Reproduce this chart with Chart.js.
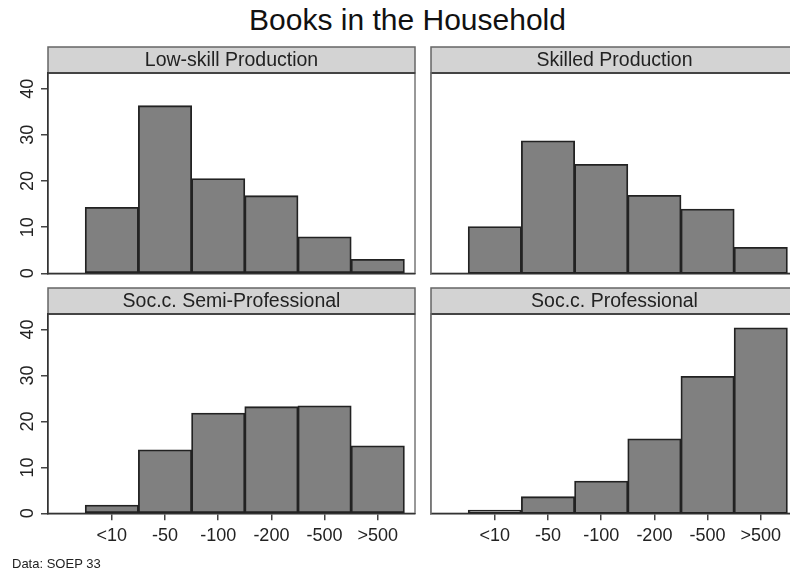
<!DOCTYPE html>
<html>
<head>
<meta charset="utf-8">
<script src="https://cdn.jsdelivr.net/npm/chart.js@4.4.0/dist/chart.umd.min.js"></script>
<style>
  html, body { margin: 0; padding: 0; background: #fff; }
  body { width: 790px; height: 574px; overflow: hidden; position: relative; font-family: "Liberation Sans", Arial, sans-serif; }
  canvas { position: absolute; }
  #title { position: absolute; left: 0; top: 5px; width: 815px; text-align: center; font-size: 30px; line-height: 30px; color: #111; }
  #note { position: absolute; left: 12px; top: 557px; font-size: 13px; line-height: 13px; color: #222; }
</style>
</head>
<body>
<div id="title">Books in the Household</div>
<canvas id="lowSkill" width="425" height="245" style="left:0px;top:40px"></canvas>
<canvas id="skilled" width="425" height="245" style="left:383px;top:40px"></canvas>
<canvas id="semiProf" width="425" height="294" style="left:0px;top:280px"></canvas>
<canvas id="prof" width="425" height="294" style="left:383px;top:280px"></canvas>
<div id="note">Data: SOEP 33</div>

<script>
// categories of books in the household
const bookCats = ["<10", "-50", "-100", "-200", "-500", ">500"];
const xPos = [1, 2, 3, 4, 5, 6];
const yTicks = [0, 10, 20, 30, 40];

// percent per category, one array per occupation group
const lowSkillVals = [14.3, 36.3, 20.5, 16.8, 7.9, 3.0];
const skilledVals = [10.1, 28.7, 23.6, 16.9, 13.9, 5.6];
const semiProfVals = [1.8, 13.8, 21.8, 23.2, 23.4, 14.7];
const profVals = [0.7, 3.6, 7.0, 16.2, 29.8, 40.4];

const fontFam = '"Liberation Sans", Arial, sans-serif';
Chart.defaults.font.family = fontFam;

// strip on top of every panel, frame and rotated y labels
const facetPlugin = {
  id: 'facet',
  beforeDraw(chart, args, opts) {
    const a = chart.chartArea;
    const ctx = chart.ctx;
    const w = a.right - a.left;
    ctx.save();
    ctx.strokeStyle = '#777';
    ctx.lineWidth = 1.5;
    ctx.strokeRect(a.left, a.top, w, a.bottom - a.top);

    ctx.fillStyle = '#d3d3d3';
    ctx.fillRect(a.left, a.top - 26, w, 26);
    ctx.strokeStyle = '#666';
    ctx.lineWidth = 1.5;
    ctx.strokeRect(a.left, a.top - 26, w, 26);
    ctx.strokeStyle = '#444';
    ctx.lineWidth = 2;
    ctx.beginPath();
    ctx.moveTo(a.left, a.top);
    ctx.lineTo(a.right, a.top);
    ctx.stroke();

    ctx.fillStyle = '#222';
    ctx.font = '19.5px ' + fontFam;
    ctx.textAlign = 'center';
    ctx.textBaseline = 'alphabetic';
    ctx.fillText(opts.label, (a.left + a.right) / 2, a.top - 6.6);

    if (opts.yLabels) {
      const ys = chart.scales.y;
      ctx.font = '18px ' + fontFam;
      for (let t of ys.ticks) {
        ctx.save();
        ctx.translate(ys.right - 15, ys.getPixelForValue(t.value));
        ctx.rotate(-Math.PI / 2);
        ctx.fillText(String(t.value), 0, 0);
        ctx.restore();
      }
    }
    ctx.restore();
  }
};

function makePanel(id, label, vals, isLeft, isBottom) {
  const canvasHeight = isBottom ? 294 : 245;
  const top = isBottom ? 34 : 33;
  const xHeight = isBottom ? 40 : 0;
  new Chart(document.getElementById(id), {
    type: 'bar',
    data: {
      datasets: [{
        data: vals.map(function(v, i) { return { x: xPos[i], y: v }; }),
        backgroundColor: '#808080',
        borderColor: '#222',
        borderWidth: 1.8,
        borderSkipped: false,
        inflateAmount: 0.4,
        barPercentage: 1,
        categoryPercentage: 1
      }]
    },
    options: {
      responsive: false,
      animation: false,
      layout: { padding: { top: top, right: 10, left: 0, bottom: canvasHeight - 233.3 - xHeight } },
      plugins: {
        legend: { display: false },
        tooltip: { enabled: false },
        facet: { label: label, yLabels: isLeft }
      },
      scales: {
        x: {
          type: 'linear',
          min: -0.2,
          max: 6.7,
          offset: false,
          afterBuildTicks: function(s) { s.ticks = xPos.map(function(v) { return { value: v }; }); },
          afterFit: function(s) { s.height = xHeight; },
          ticks: {
            display: isBottom,
            autoSkip: false,
            maxRotation: 0,
            padding: 5,
            color: '#222',
            font: { size: 18 },
            callback: function(v) { return bookCats[xPos.indexOf(v)]; }
          },
          grid: { display: isBottom, offset: false, drawOnChartArea: false, tickLength: 7, color: '#444', lineWidth: 1.5 },
          border: { display: true, color: '#333', width: 1.5 }
        },
        y: {
          min: 0,
          max: 43.4,
          afterBuildTicks: function(s) { s.ticks = yTicks.map(function(v) { return { value: v }; }); },
          afterFit: function(s) { s.width = 48; },
          ticks: { display: false },
          grid: { display: isLeft, drawOnChartArea: false, tickLength: 7, color: '#444', lineWidth: 1.5 },
          border: { display: true, color: isLeft ? '#333' : '#777', width: 1.5 }
        }
      }
    },
    plugins: [facetPlugin]
  });
}

makePanel('lowSkill', 'Low-skill Production', lowSkillVals, true, false);
makePanel('skilled', 'Skilled Production', skilledVals, false, false);
makePanel('semiProf', 'Soc.c. Semi-Professional', semiProfVals, true, true);
makePanel('prof', 'Soc.c. Professional', profVals, false, true);
</script>
</body>
</html>
